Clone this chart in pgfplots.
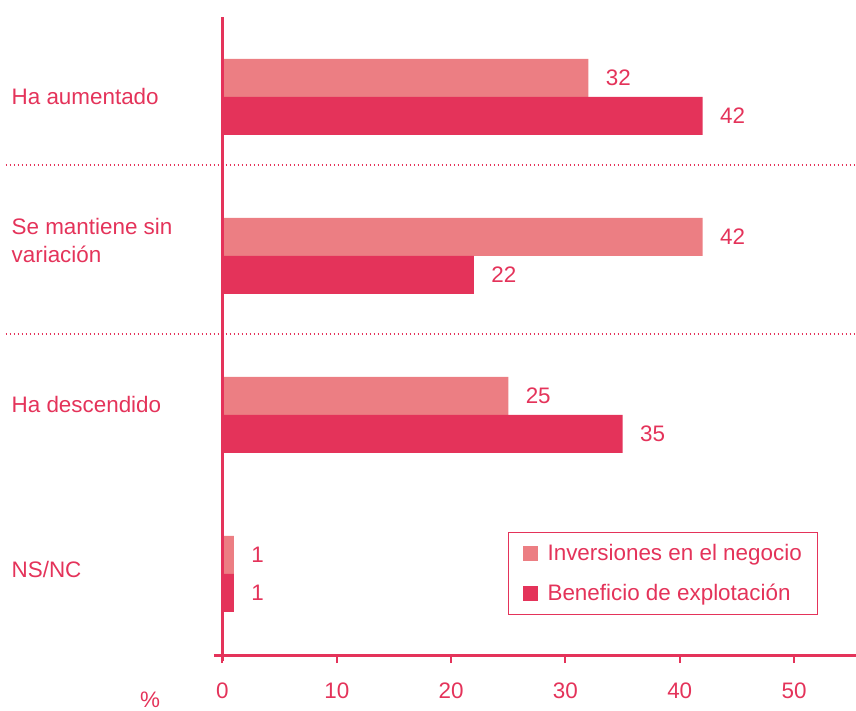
\documentclass[border=0pt]{standalone}
\usepackage{fontspec}
\setmainfont{Liberation Sans}
\usepackage{pgfplots}
\pgfplotsset{compat=1.18}
\definecolor{cred}{HTML}{E4335A}
\definecolor{clight}{HTML}{EC7E83}
\newcommand{\fs}{\fontsize{22.5}{26}\selectfont}
\begin{document}
\begin{tikzpicture}
\begin{axis}[
  scale only axis,
  width=642.1bp, height=638bp,
  xmin=-0.75, xmax=55.42,
  ymin=-0.51, ymax=3.503,
  clip=false,
  axis x line=bottom,
  axis y line=none,
  axis line style={-, draw=cred, line width=3bp},
  x axis line style={-, draw=cred, line width=3bp},
  xtick={0,10,20,30,40,50},
  ytick=\empty,
  tick align=outside,
  major tick length=8bp,
  xtick style={draw=cred, line width=2bp},
  /pgf/number format/assume math mode=true,
  xticklabel style={font=\fs, text=cred, yshift=-16bp},
  legend cell align=left,
  legend style={at={(0.458,0.1928)}, anchor=north west, draw=cred, line width=1.2bp,
    font=\fs, text=cred, inner xsep=14bp, inner ysep=10bp,
    row sep=18bp, column sep=8bp},
  legend image code/.code={\fill[#1, draw=none] (0bp,-7.5bp) rectangle (15bp,7.5bp);},
]
\addplot[xbar, bar width=0.239, fill=clight, draw=none, bar shift=0.1195,
  nodes near coords, every node near coord/.append style={font=\fs, text=cred, anchor=west, xshift=14bp, yshift=19bp}]
  coordinates {(32,3) (42,2) (25,1) (1,0)};
\addlegendentry{Inversiones en el negocio}
\addplot[xbar, bar width=0.239, fill=cred, draw=none, bar shift=-0.1195,
  nodes near coords, every node near coord/.append style={font=\fs, text=cred, anchor=west, xshift=14bp, yshift=-19bp}]
  coordinates {(42,3) (22,2) (35,1) (1,0)};
\addlegendentry{Beneficio de explotación}
% vertical axis line at x = 0
\addplot[sharp plot, draw=cred, line width=3bp, mark=none, forget plot] coordinates {(0,-0.55) (0,3.503)};
% dotted separators
\addplot[sharp plot, draw=cred, line width=1.5bp, dash pattern=on 1.5bp off 2.5bp, mark=none, forget plot] coordinates {(-18.98,2.572) (55.42,2.572)};
\addplot[sharp plot, draw=cred, line width=1.5bp, dash pattern=on 1.5bp off 2.5bp, mark=none, forget plot] coordinates {(-18.98,1.509) (55.42,1.509)};
% category labels
\node[anchor=west, text=cred, font=\fs] at (axis cs:-18.75,3) {Ha aumentado};
\node[anchor=west, align=left, text=cred, font=\fontsize{22.5}{28}\selectfont] at (axis cs:-18.75,2.10) {Se mantiene sin\\variación};
\node[anchor=west, text=cred, font=\fs] at (axis cs:-18.75,1.063) {Ha descendido};
\node[anchor=west, text=cred, font=\fs] at (axis cs:-18.75,0.025) {NS/NC};
\node[text=cred, font=\fs] at (axis cs:-6.34,-0.792) {\%};
\coordinate (bbsw) at (rel axis cs:0,0);
\coordinate (bbne) at (rel axis cs:1,1);
\end{axis}
\pgfresetboundingbox
\path ([xshift=-213.9bp,yshift=-56bp]bbsw) rectangle ([yshift=17bp]bbne);
\end{tikzpicture}
\end{document}
